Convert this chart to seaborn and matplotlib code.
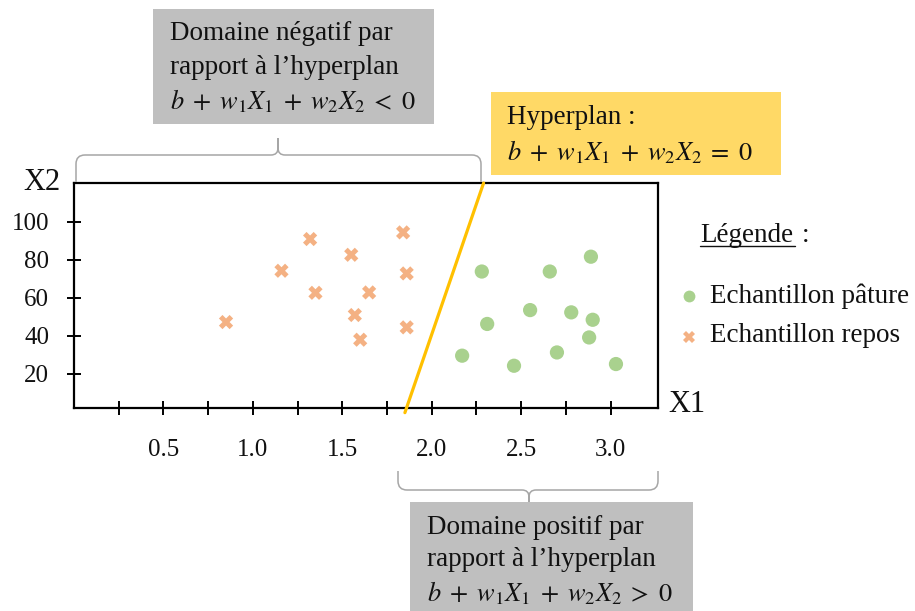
import numpy as np
import pandas as pd
import matplotlib
matplotlib.use("Agg")
import matplotlib.pyplot as plt
import seaborn as sns
from matplotlib.path import Path
from matplotlib.patches import PathPatch, Rectangle
from matplotlib.lines import Line2D

# Points (X1, X2)
paturex1 = [2.28, 2.31, 2.17, 2.46, 2.55, 2.66, 2.70, 2.78, 2.88, 2.90, 2.89, 3.03]
paturex2 = [73.8, 46.2, 29.5, 24.2, 53.5, 73.8, 31.2, 52.3, 39.1, 48.4, 81.6, 25.1]
reposx1 = [0.85, 1.16, 1.32, 1.35, 1.55, 1.65, 1.57, 1.60, 1.84, 1.86, 1.86]
reposx2 = [47.2, 74.2, 90.9, 62.6, 82.6, 62.8, 50.9, 37.9, 94.4, 72.8, 44.4]
hyper_x1 = [1.85, 2.29]
hyper_x2 = [-0.5, 120.4]
xticks_major = [0.5, 1.0, 1.5, 2.0, 2.5, 3.0]
xticks_minor = [0.25, 0.75, 1.25, 1.75, 2.25, 2.75]
yticks = [20, 40, 60, 80, 100]

green = "#A9D18E"
orange = "#F4B183"

sns.set_theme(style="white")
plt.rcParams["font.family"] = ["Liberation Serif", "DejaVu Serif"]
plt.rcParams["mathtext.fontset"] = "stix"

df = pd.DataFrame({
    "X1": paturex1 + reposx1,
    "X2": paturex2 + reposx2,
    "type": ["pâture"] * len(paturex1) + ["repos"] * len(reposx1),
})

W, H = 915, 611
fig = plt.figure(figsize=(W / 100, H / 100), dpi=100)
ax = fig.add_axes([74 / W, 1 - 408.3 / H, (658 - 74) / W, (408.3 - 183) / H])

sns.scatterplot(data=df, x="X1", y="X2", hue="type", style="type",
                palette={"pâture": green, "repos": orange},
                markers={"pâture": "o", "repos": "X"},
                s=105, linewidth=0, legend=False, ax=ax, zorder=3)
ax.plot(hyper_x1, hyper_x2, color="#FFC000", lw=2.3, clip_on=False, zorder=4)

ax.set_xlim(0, 3.265)
ax.set_ylim(1.8, 120.4)
ax.set_xticks(xticks_major)
ax.set_xticks(xticks_minor, minor=True)
ax.set_yticks(yticks)
ax.set_xlabel("")
ax.set_ylabel("")
for sp in ax.spines.values():
    sp.set_visible(True)
    sp.set_color("black")
    sp.set_linewidth(1.6)
ax.tick_params(axis="both", which="both", direction="inout", length=9.5,
               width=1.4, color="black", labelsize=18, labelcolor="#111111")
ax.tick_params(axis="x", which="both", pad=17, bottom=True)
ax.tick_params(axis="y", which="both", pad=13, left=True)

# overlay in pixel coordinates for annotations
ov = fig.add_axes([0, 0, 1, 1], zorder=5)
ov.set_xlim(0, W)
ov.set_ylim(H, 0)
ov.axis("off")
ov.patch.set_alpha(0)

tcol = "#111111"
fs = 19.5
fm = 19

def brace(x0, x1, y_end, y_mid, y_tip, xc, r=9, rt=7):
    d = 1 if y_tip > y_mid else -1
    verts = [(x0, y_end), (x0, y_mid - d * r), (x0, y_mid), (x0 + r, y_mid),
             (xc - rt, y_mid), (xc, y_mid), (xc, y_mid + d * rt), (xc, y_tip),
             (xc, y_mid + d * rt), (xc, y_mid), (xc + rt, y_mid),
             (x1 - r, y_mid), (x1, y_mid), (x1, y_mid - d * r), (x1, y_end)]
    codes = [Path.MOVETO, Path.LINETO, Path.CURVE3, Path.CURVE3,
             Path.LINETO, Path.CURVE3, Path.CURVE3, Path.LINETO,
             Path.LINETO, Path.CURVE3, Path.CURVE3,
             Path.LINETO, Path.CURVE3, Path.CURVE3, Path.LINETO]
    ov.add_patch(PathPatch(Path(verts, codes), fill=False, ec="#A6A6A6", lw=1.1))

brace(76, 481, 182, 155, 138, 278)
brace(398, 658, 471, 490, 503, 529)

# boxes
ov.add_patch(Rectangle((153, 9), 281, 115, color="#BFBFBF", lw=0))
ov.add_patch(Rectangle((491, 92), 290, 83, color="#FFD966", lw=0))
ov.add_patch(Rectangle((410, 502), 283, 109, color="#BFBFBF", lw=0))

def eq(sign):
    return r"$b\;+\;w_1X_1\;+\;w_2X_2\;" + sign + r"\;0$"

ov.text(170, 33, "Domaine négatif par", fontsize=fs, color=tcol, va="center")
ov.text(170, 67, "rapport à l’hyperplan", fontsize=fs, color=tcol, va="center")
ov.text(170, 101, eq("<"), fontsize=fm, color=tcol, va="center")

ov.text(507, 118, "Hyperplan :", fontsize=fs, color=tcol, va="center")
ov.text(507, 152, eq("="), fontsize=fm, color=tcol, va="center")

ov.text(427, 527, "Domaine positif par", fontsize=fs, color=tcol, va="center")
ov.text(427, 560, "rapport à l’hyperplan", fontsize=fs, color=tcol, va="center")
ov.text(427, 593, eq(">"), fontsize=fm, color=tcol, va="center")

# axis names
ov.text(23, 182, "X2", fontsize=22, color=tcol, va="center")
ov.text(668, 404, "X1", fontsize=22, color=tcol, va="center")

# legend
ov.text(700, 235, "Légende", fontsize=fs, color=tcol, va="center")
ov.text(802, 235, ":", fontsize=fs, color=tcol, va="center")
ov.add_line(Line2D([700, 795], [246, 246], color=tcol, lw=1))
ov.add_line(Line2D([689], [296], marker="o", ms=8.5, color=green, mew=0, ls=""))
ov.add_line(Line2D([689], [337], marker="X", ms=9, color=orange, mew=0, ls=""))
ov.text(710, 296, "Echantillon pâture", fontsize=fs, color=tcol, va="center")
ov.text(710, 336, "Echantillon repos", fontsize=fs, color=tcol, va="center")

fig.savefig("out.png", dpi=100, facecolor="white")
